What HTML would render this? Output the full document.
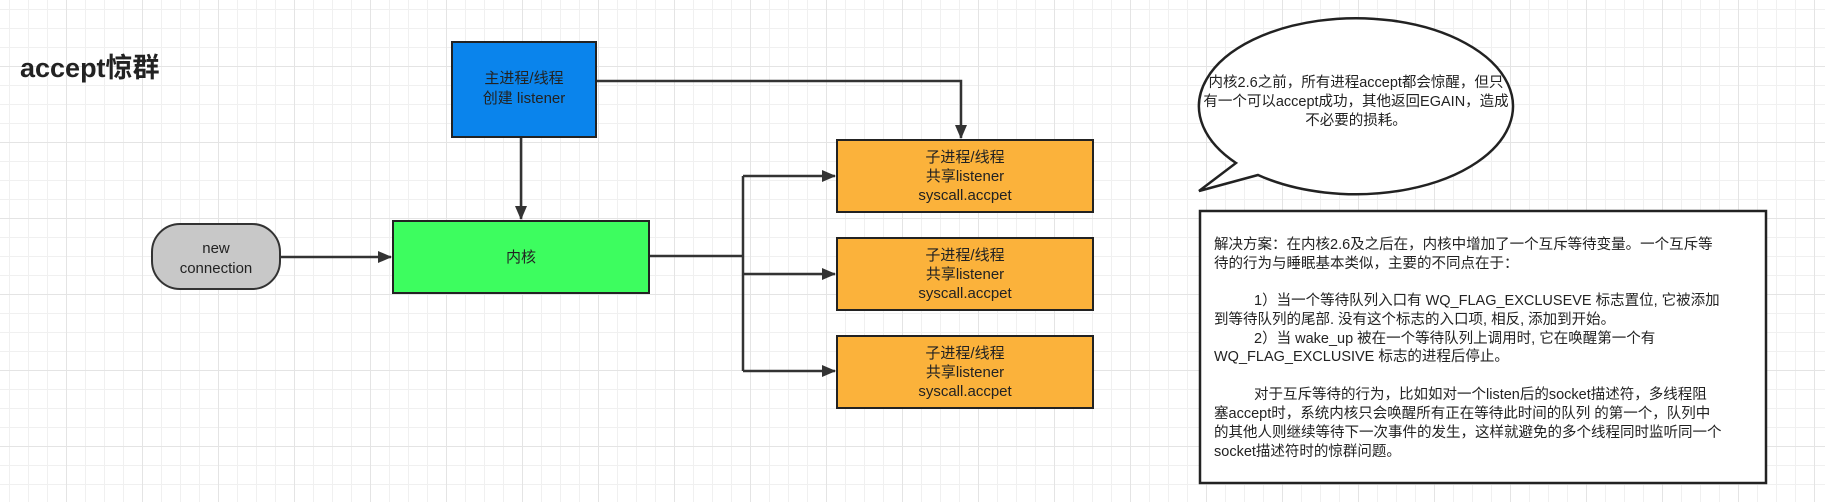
<!DOCTYPE html>
<html><head><meta charset="utf-8"><style>
html,body{margin:0;padding:0;}
body{width:1825px;height:502px;overflow:hidden;background:#fff;
background-image:linear-gradient(#e4e4e4 1px,transparent 1px),linear-gradient(90deg,#e4e4e4 1px,transparent 1px),linear-gradient(#f0f0f0 1px,transparent 1px),linear-gradient(90deg,#f0f0f0 1px,transparent 1px);
background-size:76px 76px,76px 76px,19px 19px,19px 19px;background-position:-10px -10px,-10px -10px,-10px -10px,-10px -10px;}
svg{position:absolute;left:0;top:0;}
text{font-family:"Liberation Sans","Noto Sans CJK SC",sans-serif;fill:#222;}
</style></head><body>
<svg width="1825" height="502" viewBox="0 0 1825 502">
<defs>
<marker id="b" markerWidth="14" markerHeight="12" refX="13" refY="6" orient="auto" markerUnits="userSpaceOnUse"><path d="M0,0 L14,6 L0,12 Z" fill="#333"/></marker></defs>
<text x="20" y="77" font-size="27" font-weight="bold">accept惊群</text>

<g stroke="#333" stroke-width="2.5" fill="none">
<path d="M596,81 H961 V138" marker-end="url(#b)"/>
<path d="M521,137 V219" marker-end="url(#b)"/>
<path d="M280,257 H391" marker-end="url(#b)"/>
<path d="M649,256 H743"/>
<path d="M743,176 V371"/>
<path d="M743,176 H835" marker-end="url(#b)"/>
<path d="M743,274 H835" marker-end="url(#b)"/>
<path d="M743,371 H835" marker-end="url(#b)"/>
</g>

<rect x="452" y="42" width="144" height="95" fill="#0a84ec" stroke="#222" stroke-width="2"/>
<text x="524" y="83" font-size="15" text-anchor="middle">主进程/线程</text>
<text x="524" y="103" font-size="15" text-anchor="middle">创建 listener</text>

<rect x="152" y="224" width="128" height="65" rx="28" fill="#c8c8c8" stroke="#333" stroke-width="2"/>
<text x="216" y="253" font-size="15" text-anchor="middle">new</text>
<text x="216" y="273" font-size="15" text-anchor="middle">connection</text>

<rect x="393" y="221" width="256" height="72" fill="#3dfd5f" stroke="#222" stroke-width="2"/>
<text x="521" y="262" font-size="15" text-anchor="middle">内核</text>

<g font-size="15" text-anchor="middle">
<rect x="837" y="140" width="256" height="72" fill="#fbb23b" stroke="#222" stroke-width="2"/>
<text x="965" y="162">子进程/线程</text><text x="965" y="181">共享listener</text><text x="965" y="200">syscall.accpet</text>
<rect x="837" y="238" width="256" height="72" fill="#fbb23b" stroke="#222" stroke-width="2"/>
<text x="965" y="260">子进程/线程</text><text x="965" y="279">共享listener</text><text x="965" y="298">syscall.accpet</text>
<rect x="837" y="336" width="256" height="72" fill="#fbb23b" stroke="#222" stroke-width="2"/>
<text x="965" y="358">子进程/线程</text><text x="965" y="377">共享listener</text><text x="965" y="396">syscall.accpet</text>
</g>

<path d="M1236,163 A157,88 0 1 1 1258,175 L1199,191 Z" fill="#fff" stroke="#222" stroke-width="2.5"/>
<g font-size="14.5" text-anchor="middle">
<text x="1356" y="87">内核2.6之前，所有进程accept都会惊醒，但只</text>
<text x="1356" y="106">有一个可以accept成功，其他返回EGAIN，造成</text>
<text x="1356" y="125">不必要的损耗。</text>
</g>

<rect x="1200" y="211" width="566" height="272" fill="#fff" stroke="#222" stroke-width="2.5"/>
<g font-size="14.5">
<text x="1214" y="249">解决方案：在内核2.6及之后在，内核中增加了一个互斥等待变量。一个互斥等</text>
<text x="1214" y="268">待的行为与睡眠基本类似，主要的不同点在于：</text>
<text x="1254" y="305">1）当一个等待队列入口有 WQ_FLAG_EXCLUSEVE 标志置位, 它被添加</text>
<text x="1214" y="324">到等待队列的尾部. 没有这个标志的入口项, 相反, 添加到开始。</text>
<text x="1254" y="343">2）当 wake_up 被在一个等待队列上调用时, 它在唤醒第一个有</text>
<text x="1214" y="361">WQ_FLAG_EXCLUSIVE 标志的进程后停止。</text>
<text x="1254" y="399">对于互斥等待的行为，比如如对一个listen后的socket描述符，多线程阻</text>
<text x="1214" y="418">塞accept时，系统内核只会唤醒所有正在等待此时间的队列 的第一个，队列中</text>
<text x="1214" y="437">的其他人则继续等待下一次事件的发生，这样就避免的多个线程同时监听同一个</text>
<text x="1214" y="456">socket描述符时的惊群问题。</text>
</g>
</svg>
</body></html>
